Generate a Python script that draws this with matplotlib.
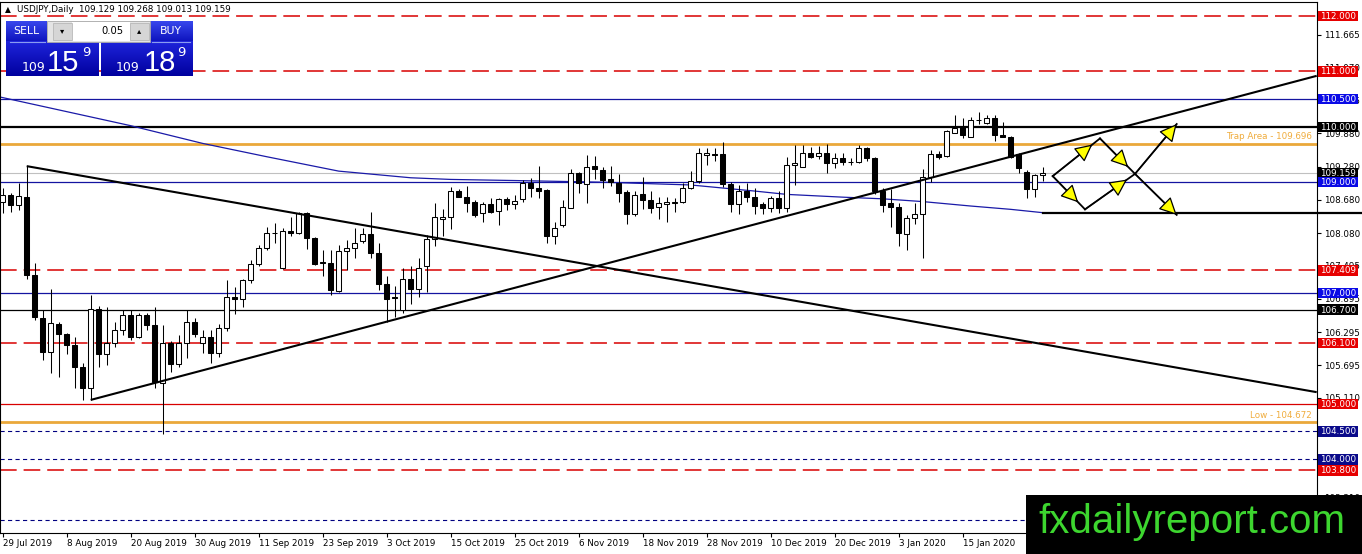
import numpy as np
import matplotlib
matplotlib.use("Agg")
import matplotlib.pyplot as plt
from matplotlib.patches import Rectangle, FancyArrowPatch

plt.rcParams['font.family'] = ['DejaVu Sans']
plt.rcParams['lines.scale_dashes'] = False

# ---- data (daily bars, index 0 = 29 Jul 2019) ----
opens = [108.65, 108.77, 108.59, 108.74, 107.32, 106.54, 105.94, 106.44, 106.26, 106.06,
         105.67, 105.28, 106.72, 105.90, 106.09, 106.34, 106.61, 106.21, 106.60, 106.42,
         105.37, 106.10, 105.72, 106.09, 106.48, 106.09, 106.20, 105.91, 106.36, 106.92,
         106.89, 107.23, 107.52, 107.81, 108.08, 107.45, 108.12, 108.09, 108.44, 108.00,
         107.56, 107.54, 107.04, 107.76, 107.81, 107.93, 108.06, 107.72, 107.16, 106.93,
         106.70, 107.26, 107.08, 107.48, 107.97, 108.34, 108.38, 108.84, 108.74, 108.64,
         108.44, 108.60, 108.48, 108.69, 108.60, 108.69, 108.99, 108.89, 108.86, 108.02,
         108.23, 108.53, 109.16, 108.97, 109.29, 109.22, 109.05, 108.99, 108.83, 108.42,
         108.79, 108.68, 108.55, 108.61, 108.63, 108.64, 108.89, 109.02, 109.49, 109.51,
         109.51, 108.97, 108.61, 108.85, 108.73, 108.61, 108.53, 108.71, 108.53, 109.31,
         109.28, 109.52, 109.47, 109.52, 109.34, 109.43, 109.37, 109.37, 109.61, 109.43,
         108.85, 108.62, 108.55, 108.07, 108.35, 108.43, 109.10, 109.51, 109.47, 109.88,
         109.99, 109.82, 110.12, 110.06, 110.15, 109.86, 109.81, 109.51, 109.19, 108.87,
         109.129]
highs = [108.89, 108.80, 108.98, 109.29, 107.54, 106.69, 107.08, 106.48, 106.28, 106.21,
         105.73, 106.96, 106.77, 106.75, 106.48, 106.69, 106.69, 106.63, 106.63, 106.75,
         106.42, 106.14, 106.24, 106.69, 106.54, 106.34, 106.34, 106.44, 107.23, 107.11,
         107.26, 107.60, 107.87, 108.20, 108.26, 108.17, 108.38, 108.47, 108.47, 108.01,
         107.78, 107.78, 107.87, 107.96, 108.17, 108.17, 108.47, 107.90, 107.31, 107.13,
         107.45, 107.48, 107.63, 108.05, 108.62, 108.51, 108.91, 108.87, 108.93, 108.68,
         108.65, 108.71, 108.71, 108.74, 108.76, 109.04, 109.07, 109.29, 108.87, 108.29,
         108.67, 109.23, 109.19, 109.49, 109.47, 109.28, 109.29, 109.15, 108.86, 108.85,
         109.09, 108.84, 108.73, 108.73, 108.71, 108.99, 109.21, 109.61, 109.61, 109.61,
         109.73, 109.01, 108.95, 108.99, 108.89, 108.65, 108.75, 108.85, 109.45, 109.67,
         109.67, 109.64, 109.65, 109.69, 109.52, 109.53, 109.43, 109.67, 109.63, 109.46,
         108.89, 108.87, 108.62, 108.41, 108.63, 109.23, 109.58, 109.57, 109.95, 110.21,
         110.15, 110.18, 110.27, 110.21, 110.21, 110.09, 109.83, 109.52, 109.22, 109.15,
         109.268]
lows = [108.44, 108.47, 108.50, 107.26, 106.51, 105.79, 105.55, 105.49, 105.90, 105.28,
        105.07, 105.07, 105.67, 105.70, 106.03, 106.24, 106.16, 106.18, 106.34, 105.28,
        104.46, 105.58, 105.67, 105.82, 106.21, 105.92, 105.73, 105.85, 106.32, 106.62,
        106.75, 107.18, 107.48, 107.78, 107.91, 107.43, 108.03, 108.07, 107.79, 107.50,
        107.30, 106.96, 107.01, 107.42, 107.64, 107.90, 107.63, 107.05, 106.48, 106.56,
        106.64, 106.81, 106.92, 107.02, 107.84, 108.02, 108.15, 108.73, 108.47, 108.37,
        108.29, 108.44, 108.23, 108.50, 108.51, 108.65, 108.74, 108.71, 107.91, 107.88,
        108.19, 108.53, 108.81, 108.63, 109.05, 108.89, 108.93, 108.65, 108.24, 108.39,
        108.51, 108.45, 108.34, 108.28, 108.47, 108.62, 108.87, 108.99, 109.31, 109.39,
        108.92, 108.47, 108.43, 108.65, 108.43, 108.43, 108.47, 108.45, 108.47, 108.95,
        109.27, 109.43, 109.41, 109.17, 109.25, 109.31, 109.31, 109.35, 109.39, 108.79,
        108.47, 108.20, 107.84, 107.78, 108.25, 107.64, 109.01, 109.41, 109.46, 109.88,
        109.79, 109.82, 110.05, 110.05, 109.75, 109.81, 109.43, 109.16, 108.71, 108.74,
        109.013]
closes = [108.77, 108.59, 108.75, 107.32, 106.57, 105.94, 106.45, 106.26, 106.06, 105.67,
          105.28, 106.72, 105.90, 106.10, 106.34, 106.61, 106.20, 106.60, 106.42, 105.40,
          106.09, 105.72, 106.09, 106.48, 106.26, 106.20, 105.91, 106.36, 106.92, 106.89,
          107.23, 107.52, 107.81, 108.08, 108.09, 108.12, 108.09, 108.44, 108.00, 107.52,
          107.55, 107.05, 107.76, 107.81, 107.91, 108.06, 107.72, 107.16, 106.90, 106.91,
          107.26, 107.08, 107.46, 107.97, 108.37, 108.38, 108.85, 108.74, 108.63, 108.41,
          108.60, 108.47, 108.69, 108.60, 108.66, 108.99, 108.89, 108.85, 108.02, 108.17,
          108.55, 109.16, 108.98, 109.28, 109.24, 109.04, 109.00, 108.81, 108.42, 108.77,
          108.67, 108.53, 108.62, 108.65, 108.65, 108.89, 109.02, 109.52, 109.52, 109.49,
          108.97, 108.61, 108.85, 108.73, 108.57, 108.53, 108.71, 108.53, 109.31, 109.35,
          109.52, 109.46, 109.52, 109.34, 109.43, 109.37, 109.36, 109.61, 109.43, 108.85,
          108.59, 108.55, 108.08, 108.35, 108.43, 109.10, 109.51, 109.45, 109.92, 109.97,
          109.86, 110.13, 110.13, 110.15, 109.85, 109.82, 109.46, 109.25, 108.87, 109.13,
          109.159]

date_bars = [0, 8, 16, 24, 32, 40, 48, 56, 64, 72, 80, 88, 96, 104, 112, 120]
date_labels = ["29 Jul 2019", "8 Aug 2019", "20 Aug 2019", "30 Aug 2019", "11 Sep 2019",
               "23 Sep 2019", "3 Oct 2019", "15 Oct 2019", "25 Oct 2019", "6 Nov 2019",
               "18 Nov 2019", "28 Nov 2019", "10 Dec 2019", "20 Dec 2019", "3 Jan 2020",
               "15 Jan 2020"]

# moving average (blue curve), read at a few bars
ma_bars = [-0.4, 16, 25, 33, 42, 51, 56, 64, 75, 86, 94, 98, 105, 110, 115, 121, 126, 130]
ma_vals = [110.54, 110.02, 109.70, 109.46, 109.20, 109.08, 109.05, 109.03, 109.00, 108.95,
           108.84, 108.78, 108.73, 108.70, 108.65, 108.57, 108.51, 108.45]

price_ticks = [111.665, 111.070, 110.475, 109.880, 109.280, 108.680, 108.080, 107.495,
               106.895, 106.295, 105.695, 105.110, 103.310]

red_dash_levels = [112.0, 111.0, 107.409, 106.1, 103.8]
red_levels = [105.0]
blue_levels = [110.5, 109.0, 107.0]
black_levels = [110.0, 106.7]
navy_levels = [104.5, 104.0]
navy_hidden_level = 102.9
trap_level = 109.696
low_level = 104.672
bid = 109.159
ask = 109.189

down_line = [(3, 109.29), (164.25, 105.21)]
up_line = [(11, 105.07), (164.25, 110.92)]
support_line = [(130, 108.45), (170, 108.45)]

arrow_pts = {"A": (131.25, 109.11), "B": (137.16, 109.79), "C": (141.54, 109.15),
             "D": (135.29, 108.51), "E": (146.75, 110.05), "F": (146.75, 108.41)}
arrow_legs = [("A", "B"), ("B", "C"), ("A", "D"), ("D", "C"), ("C", "E"), ("C", "F")]

# ---- layout (pixels) ----
W, H = 1362, 554
AX_R, AX_T, AX_B = 1316.7, 1.7, 532.7


def py(p):
    return 16 + (112 - p) * 55.4


fig = plt.figure(figsize=(W / 100, H / 100), dpi=100)
fig.patch.set_facecolor("white")
ax = fig.add_axes([0, 1 - AX_B / H, AX_R / W, (AX_B - AX_T) / H])
ax.set_xlim(-2.7 / 8, (AX_R - 2.7) / 8)
ax.set_ylim(112 - (AX_B - 16) / 55.4, 112 - (AX_T - 16) / 55.4)

# horizontal levels
for lv in red_dash_levels:
    ax.axhline(lv, color="#d80000", lw=1.1, ls=(0, (12, 5)), zorder=2)
for lv in red_levels:
    ax.axhline(lv, color="#d80000", lw=0.9, zorder=2)
for lv in blue_levels:
    ax.axhline(lv, color="#1414a0", lw=0.9, zorder=2)
ax.axhline(black_levels[0], color="black", lw=1.6, zorder=2)
ax.axhline(black_levels[1], color="black", lw=0.9, zorder=2)
for lv in navy_levels + [navy_hidden_level]:
    ax.axhline(lv, color="#000080", lw=0.8, ls=(0, (3, 2.4)), zorder=2)
for lv in (trap_level, low_level):
    ax.axhline(lv, color="#eaa83a", lw=2.0, zorder=2)
ax.axhline(bid, color="#c0c0c0", lw=0.8, zorder=2)

# moving average
ax.plot(ma_bars, ma_vals, color="#1a1aa8", lw=0.9, zorder=2.5)

# candles
o = np.array(opens); h = np.array(highs); l = np.array(lows); c = np.array(closes)
x = np.arange(len(o))
ax.vlines(x, l, h, color="black", lw=0.75, zorder=3)
body_lo = np.minimum(o, c)
body_h = np.maximum(np.abs(c - o), 0.004)
faces = ["white" if cc >= oo else "black" for oo, cc in zip(o, c)]
ax.bar(x, body_h, bottom=body_lo, width=0.62, color=faces, edgecolor="black",
       linewidth=0.75, zorder=4)

# trend lines
for seg in (down_line, up_line):
    ax.plot([seg[0][0], seg[1][0]], [seg[0][1], seg[1][1]], color="black", lw=1.5,
            zorder=5, solid_capstyle="butt")
ax.plot([support_line[0][0], support_line[1][0]], [support_line[0][1], support_line[1][1]],
        color="black", lw=1.6, zorder=5, clip_on=False)

# arrow scenario
for a, b in arrow_legs:
    pa, pb = arrow_pts[a], arrow_pts[b]
    ax.plot([pa[0], pb[0]], [pa[1], pb[1]], color="black", lw=1.3, zorder=6)
    final = b in ("E", "F")
    ax.add_patch(FancyArrowPatch(pa, pb, arrowstyle="-|>,head_length=0.6,head_width=0.3",
                                 mutation_scale=18, fc="#ffff00", ec="black", lw=0.9,
                                 shrinkA=0, shrinkB=0 if final else 7, zorder=7))

# axes styling
for side in ("top", "right", "bottom", "left"):
    ax.spines[side].set_color("black")
    ax.spines[side].set_linewidth(0.8)
ax.yaxis.tick_right()
ax.set_yticks(price_ticks)
ax.set_yticklabels([f"{v:.3f}" for v in price_ticks])
ax.tick_params(axis="y", direction="out", length=3, width=0.8, pad=2.5, labelsize=6.3)
ax.set_xticks(date_bars)
ax.set_xticklabels(date_labels)
ax.tick_params(axis="x", direction="out", length=3, width=0.8, pad=1.5, labelsize=6.3)
for t in ax.get_xticklabels():
    t.set_horizontalalignment("left")

# ---- overlay in pixel coordinates ----
ov = fig.add_axes([0, 0, 1, 1], zorder=10)
ov.patch.set_alpha(0)
ov.axis("off")

# price labels on the scale
labels = [(bid, "black")]
labels += [(lv, "#e60000") for lv in red_dash_levels + red_levels]
labels += [(lv, "#0a0ae6") for lv in blue_levels]
labels += [(lv, "black") for lv in black_levels]
labels += [(lv, "#0a0a8a") for lv in navy_levels]
for lv, col in labels:
    yy = py(lv)
    ov.add_patch(Rectangle((1318, yy - 5.3), 40, 10.6, fc=col, ec="none", zorder=3))
    ov.text(1338, yy + 0.4, f"{lv:.3f}", color="white", ha="center", va="center",
            fontsize=6.3, zorder=4)

ov.text(1312, py(trap_level) - 2.2, f"Trap Area - {trap_level:.3f}", color="#f0ac3c",
        ha="right", va="bottom", fontsize=6.3)
ov.text(1312, py(low_level) - 2.2, f"Low - {low_level:.3f}", color="#f0ac3c",
        ha="right", va="bottom", fontsize=6.3)

# header
ov.text(5, 10, "\u25b2", fontsize=5.5, va="center", ha="left")
ov.text(17, 10, f"USDJPY,Daily  {opens[-1]:.3f} {highs[-1]:.3f} {lows[-1]:.3f} {closes[-1]:.3f}",
        fontsize=6.3, va="center", ha="left")


# one-click trading panel
def gradient(x0, y0, x1, y1, top, bot):
    t = np.linspace(0, 1, 64)[:, None, None]
    img = (1 - t) * np.array(top) + t * np.array(bot)
    ov.imshow(img, extent=(x0, x1, y1, y0), aspect="auto", interpolation="bilinear", zorder=5)


btn_top, btn_bot = (0.22, 0.28, 0.93), (0.05, 0.07, 0.74)
big_top, big_bot = (0.12, 0.14, 0.86), (0.0, 0.0, 0.62)
gradient(6, 20.7, 46.7, 41.7, btn_top, btn_bot)
gradient(150, 20.7, 192.7, 41.7, btn_top, btn_bot)
gradient(6, 41.7, 99, 76, big_top, big_bot)
gradient(100.7, 41.7, 192.7, 76, big_top, big_bot)
ov.plot([10, 45], [41.7, 41.7], color="#8a9cf0", lw=0.8, zorder=6)
ov.plot([152, 190], [41.7, 41.7], color="#8a9cf0", lw=0.8, zorder=6)

ov.add_patch(Rectangle((46.7, 20.7), 103.3, 21, fc="#e4e4e4", ec="#a8a8a8", lw=0.6, zorder=5))
ov.add_patch(Rectangle((71.7, 22), 58.3, 18.5, fc="white", ec="none", zorder=6))
for bx in (53, 130):
    ov.add_patch(Rectangle((bx, 22.5), 18.5, 17.5, fc="#d6d6d6", ec="#b0b0b0", lw=0.5, zorder=6))
ov.text(62, 30.5, "\u25be", fontsize=6, ha="center", va="center", zorder=7)
ov.text(139, 30.5, "\u25b4", fontsize=6, ha="center", va="center", zorder=7)
ov.text(124, 30.5, "0.05", fontsize=7.2, ha="right", va="center", zorder=7)

ov.text(26.5, 31, "SELL", color="white", fontsize=7.8, ha="center", va="center", zorder=7)
ov.text(171, 31, "BUY", color="white", fontsize=7.8, ha="center", va="center", zorder=7)

for price, xs in ((bid, (22, 46.5, 82)), (ask, (116, 143.5, 177.5))):
    s = f"{price:.3f}"
    big_int, pips, point = s[:3], s[4:6], s[6]
    ov.text(xs[0], 71, big_int, color="white", fontsize=9, ha="left", va="baseline", zorder=7)
    ov.text(xs[1], 71, pips, color="white", fontsize=21, family=["Liberation Sans"],
            ha="left", va="baseline", zorder=7)
    ov.text(xs[2], 56, point, color="white", fontsize=9.5, ha="left", va="baseline", zorder=7)

# watermark
ov.add_patch(Rectangle((1026, 495), W - 1026, H - 495, fc="black", ec="none", zorder=8))
ov.text(1192, 533, "fxdailyreport.com", color="#3dd62f", fontsize=29,
        family=["Liberation Sans"], ha="center", va="baseline", zorder=9)

ov.set_xlim(0, W)
ov.set_ylim(H, 0)

fig.savefig("out.png", dpi=100)
